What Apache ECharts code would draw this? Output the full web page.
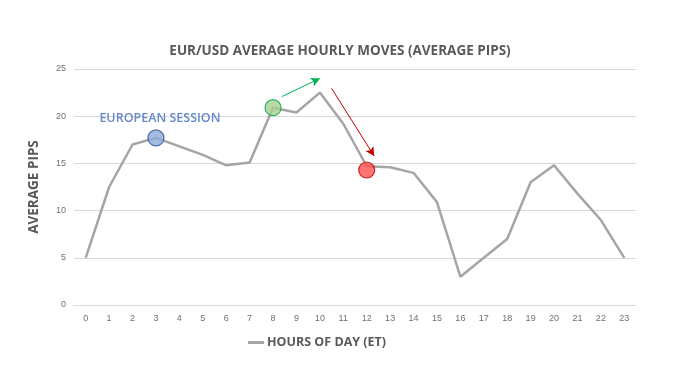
<!DOCTYPE html>
<html><head><meta charset="utf-8">
<script src="https://cdn.jsdelivr.net/npm/echarts@6/dist/echarts.min.js"></script>
<style>html,body{margin:0;padding:0;background:#fff}#c{width:680px;height:384px}</style>
</head><body><div id="c"></div>
<script>
var hours = ['0','1','2','3','4','5','6','7','8','9','10','11','12','13','14','15','16','17','18','19','20','21','22','23'];
var avgPips = [5, 12.5, 17, 17.7, 16.8, 15.9, 14.8, 15.1, 20.9, 20.4, 22.5, 19.2, 14.7, 14.6, 14.0, 10.9, 3.0, 5.0, 7.0, 13.0, 14.8, 11.8, 9.0, 5.0];
var blueDot = [[3, 17.7]];
var greenDot = [[8, 20.9]];
var redDot = [[12, 14.3]];
var greenArrow = [[8.37, 22.07], [10.0, 24.0]];
var redArrow = [[10.5, 22.95], [12.32, 15.78]];
var sessionLabel = [[3.17, 19.75]];

var FONT = "'Open Sans',sans-serif";
var chart = echarts.init(document.getElementById('c'));
chart.setOption({
  animation: false,
  backgroundColor: '#fff',
  title: {
    text: 'EUR/USD AVERAGE HOURLY MOVES (AVERAGE PIPS)',
    left: 'center', top: 39,
    textStyle: {fontFamily: FONT, fontSize: 13.5, fontWeight: 'bold', color: '#595959'}
  },
  legend: {
    data: [{name: 'HOURS OF DAY (ET)', icon: 'rect'}],
    left: 243, top: 331,
    itemWidth: 16, itemHeight: 3, itemGap: 4,
    textStyle: {fontFamily: FONT, fontSize: 12.5, fontWeight: 'bold', color: '#595959', padding: [0, 0, 0, -2]}
  },
  grid: {left: 74, right: 44, top: 69, bottom: 79},
  xAxis: [{
    type: 'category', data: hours, boundaryGap: true,
    axisLine: {lineStyle: {color: '#d9d9d9'}},
    axisTick: {show: false},
    axisLabel: {color: '#6f6f6f', fontSize: 9, margin: 9}
  }, {
    type: 'value', min: -0.5, max: 23.5, show: false
  }],
  yAxis: {
    type: 'value', min: 0, max: 25, interval: 5,
    name: 'AVERAGE PIPS', nameLocation: 'middle', nameGap: 33,
    nameTextStyle: {fontFamily: FONT, fontSize: 13.5, fontWeight: 'bold', color: '#595959'},
    axisLine: {show: false}, axisTick: {show: false},
    axisLabel: {color: '#6f6f6f', fontSize: 9, margin: 8},
    splitLine: {lineStyle: {color: '#d9d9d9'}}
  },
  series: [{
    name: 'HOURS OF DAY (ET)', type: 'line', data: avgPips,
    symbol: 'none', lineStyle: {color: '#a5a5a5', width: 2.5}, itemStyle: {color: '#a5a5a5'}, z: 2
  }, {
    type: 'scatter', data: blueDot, symbolSize: 16, z: 5,
    itemStyle: {color: '#8eaadb', borderColor: '#2f5597', borderWidth: 1.2}
  }, {
    type: 'scatter', data: greenDot, symbolSize: 16, z: 5,
    itemStyle: {color: '#a9d18e', borderColor: '#00a550', borderWidth: 1.2}
  }, {
    type: 'scatter', data: redDot, symbolSize: 16, z: 5,
    itemStyle: {color: '#ff5050', borderColor: '#c00000', borderWidth: 1.2}
  }, {
    type: 'scatter', xAxisIndex: 1, data: sessionLabel, symbolSize: 0,
    label: {show: true, position: 'inside', formatter: 'EUROPEAN SESSION',
      fontFamily: FONT, fontSize: 12.5, fontWeight: 600, color: '#3f6cbf'},
    markLine: {
      silent: true, symbol: ['none', 'arrow'], symbolSize: [7, 9], label: {show: false},
      data: [
        [{coord: greenArrow[0], lineStyle: {color: '#00b050', width: 1, type: 'solid'}}, {coord: greenArrow[1]}],
        [{coord: redArrow[0], lineStyle: {color: '#c00000', width: 1, type: 'solid'}}, {coord: redArrow[1]}]
      ]
    }
  }]
});
</script></body></html>
